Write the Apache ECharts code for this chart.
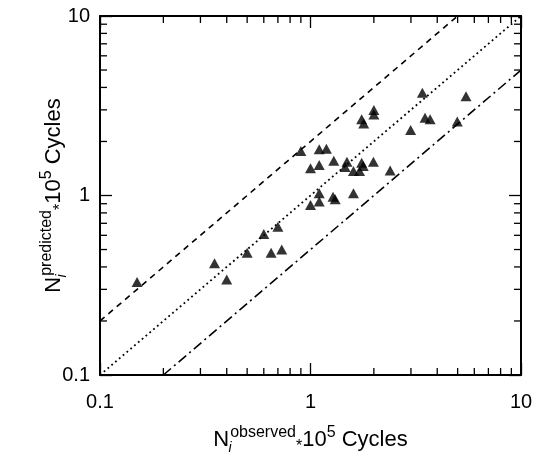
<!DOCTYPE html>
<html><head><meta charset="utf-8">
<script src="https://cdn.jsdelivr.net/npm/echarts@6/dist/echarts.min.js"></script>
<style>html,body{margin:0;padding:0;background:#fff}#c{width:542px;height:456px}</style>
</head><body><div id="c"></div>
<script>
// observed cycles (x 1e5) and predicted cycles (x 1e5)
const observed  = [0.15,0.35,0.40,0.50,0.60,0.65,0.70,0.73,0.90,1.00,1.00,1.10,1.10,1.10,1.10,1.19,1.29,1.28,1.31,1.46,1.49,1.60,1.71,1.75,1.78,1.99,1.60,1.75,1.79,2.00,2.00,2.39,2.99,3.40,3.50,3.70,4.98,5.48];
const predicted = [0.33,0.42,0.34,0.48,0.61,0.48,0.67,0.50,1.77,1.42,0.885,1.81,1.48,1.03,0.925,1.82,1.56,0.985,0.953,1.44,1.54,1.37,1.37,1.52,1.46,1.54,1.03,2.66,2.52,2.99,2.83,1.38,2.32,3.74,2.71,2.66,2.58,3.57];
// reference lines: factor-of-2 band and line of equality
const upperLine = [[0.1,0.2],[5,10]];
const equalLine = [[0.1,0.1],[10,10]];
const lowerLine = [[0.2,0.1],[10,5]];
const tickLabels = ['0.1','1','10'];
const tickValues = [0.1,1,10];
const minorTicks = [0.2,0.3,0.4,0.5,0.6,0.7,0.8,0.9,2,3,4,5,6,7,8,9];

const FONT = "'Liberation Sans', Arial, Helvetica, sans-serif";
const fmt = v => { const i = tickValues.findIndex(t => Math.abs(Math.log10(t) - Math.log10(v)) < 1e-6); return i >= 0 ? tickLabels[i] : ''; };

const rich = {
  n:   {fontSize: 22, lineHeight: 30, verticalAlign: 'middle', fontFamily: FONT, color: '#000'},
  sub: {fontSize: 14, lineHeight: 14, verticalAlign: 'bottom', fontStyle: 'italic', fontFamily: FONT, color: '#000', width: 0, padding: [0,0,0,1]},
  sup: {fontSize: 16, lineHeight: 16, verticalAlign: 'top', fontFamily: FONT, color: '#000'},
  star:{fontSize: 16, lineHeight: 16, verticalAlign: 'bottom', fontFamily: FONT, color: '#000'}
};

const baseAxis = (pos, showLabel) => ({
  type: 'log', logBase: 10, min: 0.1, max: 10, position: pos,
  axisLine: {show: true, onZero: false, lineStyle: {color: '#000', width: 2}},
  axisTick: {show: true, inside: true, length: 12, lineStyle: {color: '#000', width: 1.3}},
  axisLabel: {show: showLabel, fontSize: 20, fontFamily: FONT, color: '#000', margin: pos === 'bottom' ? 17 : 10, formatter: fmt},
  splitLine: {show: false}
});

const chart = echarts.init(document.getElementById('c'), null, {renderer: 'canvas'});
const xa0 = baseAxis('bottom', true);
xa0.name = '{n|N}{sub|i}{sup|observed}{star|*}{n|10}{sup|5}{n| Cycles}';
xa0.nameLocation = 'middle'; xa0.nameGap = 50; xa0.nameMoveOverlap = false;
xa0.nameTextStyle = {rich};
const ya0 = baseAxis('left', true);
ya0.name = '{n|N}{sub|i}{sup|predicted}{star|*}{n|10}{sup|5}{n| Cycles}';
ya0.nameLocation = 'middle'; ya0.nameGap = 31; ya0.nameRotate = 90; ya0.nameMoveOverlap = false;
ya0.nameTextStyle = {rich};

chart.setOption({
  animation: false,
  backgroundColor: '#fff',
  grid: {left: 100, right: 21, top: 16, bottom: 81, containLabel: false, outerBoundsMode: 'none'},
  xAxis: [xa0, baseAxis('top', false)],
  yAxis: [ya0, baseAxis('right', false)],
  series: [
    {type: 'line', data: upperLine, symbol: 'none', lineStyle: {color: '#000', width: 1.6, type: [6,5]}, z: 2},
    {type: 'line', data: equalLine, symbol: 'none', lineStyle: {color: '#000', width: 1.8, type: [1.8,3.2]}, z: 2},
    {type: 'line', data: lowerLine, symbol: 'none', lineStyle: {color: '#000', width: 1.6, type: [10,4,2,4]}, z: 2},
    {type: 'scatter', data: observed.map((x, i) => [x, predicted[i]]), symbol: 'triangle', symbolSize: [11, 10],
     itemStyle: {color: '#000'}, z: 3},
    {type: 'custom', coordinateSystem: 'cartesian2d', silent: true, clip: false, z: 4,
     data: minorTicks.map(v => [v, v]),
     renderItem: (params, api) => {
       const v = api.value(0);
       const cs = params.coordSys;
       const px = api.coord([v, 1])[0];
       const py = api.coord([1, v])[1];
       const L = 7, st = {stroke: '#000', lineWidth: 1.3};
       return {type: 'group', children: [
         {type: 'line', shape: {x1: px, y1: cs.y + cs.height, x2: px, y2: cs.y + cs.height - L}, style: st},
         {type: 'line', shape: {x1: px, y1: cs.y, x2: px, y2: cs.y + L}, style: st},
         {type: 'line', shape: {x1: cs.x, y1: py, x2: cs.x + L, y2: py}, style: st},
         {type: 'line', shape: {x1: cs.x + cs.width, y1: py, x2: cs.x + cs.width - L, y2: py}, style: st}
       ]};
     }}
  ]
});
</script></body></html>
